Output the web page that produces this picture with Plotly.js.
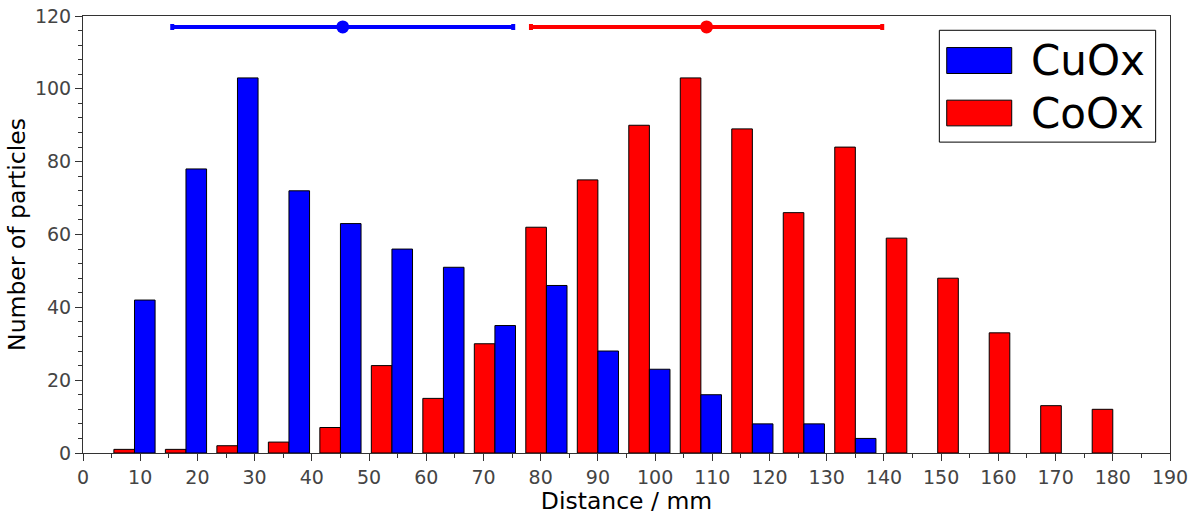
<!DOCTYPE html>
<html>
<head>
<meta charset="utf-8">
<script src="https://cdn.plot.ly/plotly-3.0.1.min.js"></script>
<style>html,body{margin:0;padding:0;background:#fff;}#chart{width:1199px;height:515px;}</style>
</head>
<body>
<div id="chart"></div>
<script>
const binCenters = [9, 18, 27, 36, 45, 54, 63, 72, 81, 90, 99, 108, 117, 126, 135, 144, 153, 162, 171, 180];
const cuoxCounts = [42, 78, 103, 72, 63, 56, 51, 35, 46, 28, 23, 16, 8, 8, 4, 0, 0, 0, 0, 0];
const cooxCounts = [1, 1, 2, 3, 7, 24, 15, 30, 62, 75, 90, 103, 89, 66, 84, 59, 48, 33, 13, 12];
const seriesNames = ['CuOx', 'CoOx'];
const meanDistance = [45.4, 109.0];
const spreadDistance = [29.8, 30.7];
const meanMarkerY = [117, 117];
const xTickVals = [0,10,20,30,40,50,60,70,80,90,100,110,120,130,140,150,160,170,180,190];
const yTickVals = [0,20,40,60,80,100,120];

const blue = '#0000ff', red = '#ff0000';
const font = 'DejaVu Sans, sans-serif';
const edgeWidths = arr => arr.map(v => v > 0 ? 1 : 0);

const traces = [
  {type:'bar', name: seriesNames[1], x: binCenters, y: cooxCounts,
   marker:{color: red, line:{color:'#000', width: edgeWidths(cooxCounts)}}, showlegend:false},
  {type:'bar', name: seriesNames[0], x: binCenters, y: cuoxCounts,
   marker:{color: blue, line:{color:'#000', width: edgeWidths(cuoxCounts)}}, showlegend:false},
  {type:'scatter', mode:'markers', x:[meanDistance[0]], y:[meanMarkerY[0]],
   marker:{color: blue, size:13},
   error_x:{type:'data', array:[spreadDistance[0]], color: blue, thickness:4, width:3},
   showlegend:false, hoverinfo:'x'},
  {type:'scatter', mode:'markers', x:[meanDistance[1]], y:[meanMarkerY[1]],
   marker:{color: red, size:13},
   error_x:{type:'data', array:[spreadDistance[1]], color: red, thickness:4, width:3},
   showlegend:false, hoverinfo:'x'}
];

// custom legend (paper coordinates)
const shapes = [
  {type:'rect', xref:'paper', yref:'paper', x0:0.7878, x1:0.9868, y0:0.7114, y1:0.9673,
   line:{color:'#000', width:1}, fillcolor:'#fff', layer:'above'},
  {type:'rect', xref:'paper', yref:'paper', x0:0.7946, x1:0.8544, y0:0.8684, y1:0.9278,
   line:{color:'#000', width:1}, fillcolor: blue, layer:'above'},
  {type:'rect', xref:'paper', yref:'paper', x0:0.7946, x1:0.8544, y0:0.7486, y1:0.8074,
   line:{color:'#000', width:1}, fillcolor: red, layer:'above'}
];
const annotations = [
  {xref:'paper', yref:'paper', x:0.8705, y:0.899, xanchor:'left', yanchor:'middle',
   text: seriesNames[0], showarrow:false, font:{family:font, size:42, color:'#000'}},
  {xref:'paper', yref:'paper', x:0.8705, y:0.777, xanchor:'left', yanchor:'middle',
   text: seriesNames[1], showarrow:false, font:{family:font, size:42, color:'#000'}}
];

const layout = {
  width:1199, height:515,
  margin:{l:83, r:29, t:16, b:62},
  paper_bgcolor:'#fff', plot_bgcolor:'#fff',
  barmode:'group', bargap:0.2, bargroupgap:0,
  font:{family:font, color:'#444'},
  xaxis:{range:[0,190], tickvals:xTickVals, ticks:'outside', ticklen:7, tickcolor:'#333',
    showgrid:false, zeroline:false, showline:true, linecolor:'#333', linewidth:1, mirror:true,
    tickfont:{family:font, size:19, color:'#444'},
    minor:{dtick:5, ticks:'outside', ticklen:4, tickcolor:'#333', showgrid:false},
    title:{text:'Distance / mm', font:{family:font, size:23.5, color:'#000'}, standoff:5}},
  yaxis:{range:[0,120], tickvals:yTickVals, ticks:'outside', ticklen:7, tickcolor:'#333',
    showgrid:false, zeroline:false, showline:true, linecolor:'#333', linewidth:1, mirror:true,
    tickfont:{family:font, size:19, color:'#444'},
    minor:{dtick:4, ticks:'outside', ticklen:4, tickcolor:'#333', showgrid:false},
    title:{text:'Number of particles', font:{family:font, size:23.5, color:'#000'}, standoff:2}},
  shapes: shapes,
  annotations: annotations,
  showlegend:false
};

Plotly.newPlot('chart', traces, layout, {displayModeBar:false, staticPlot:true});
</script>
</body>
</html>
